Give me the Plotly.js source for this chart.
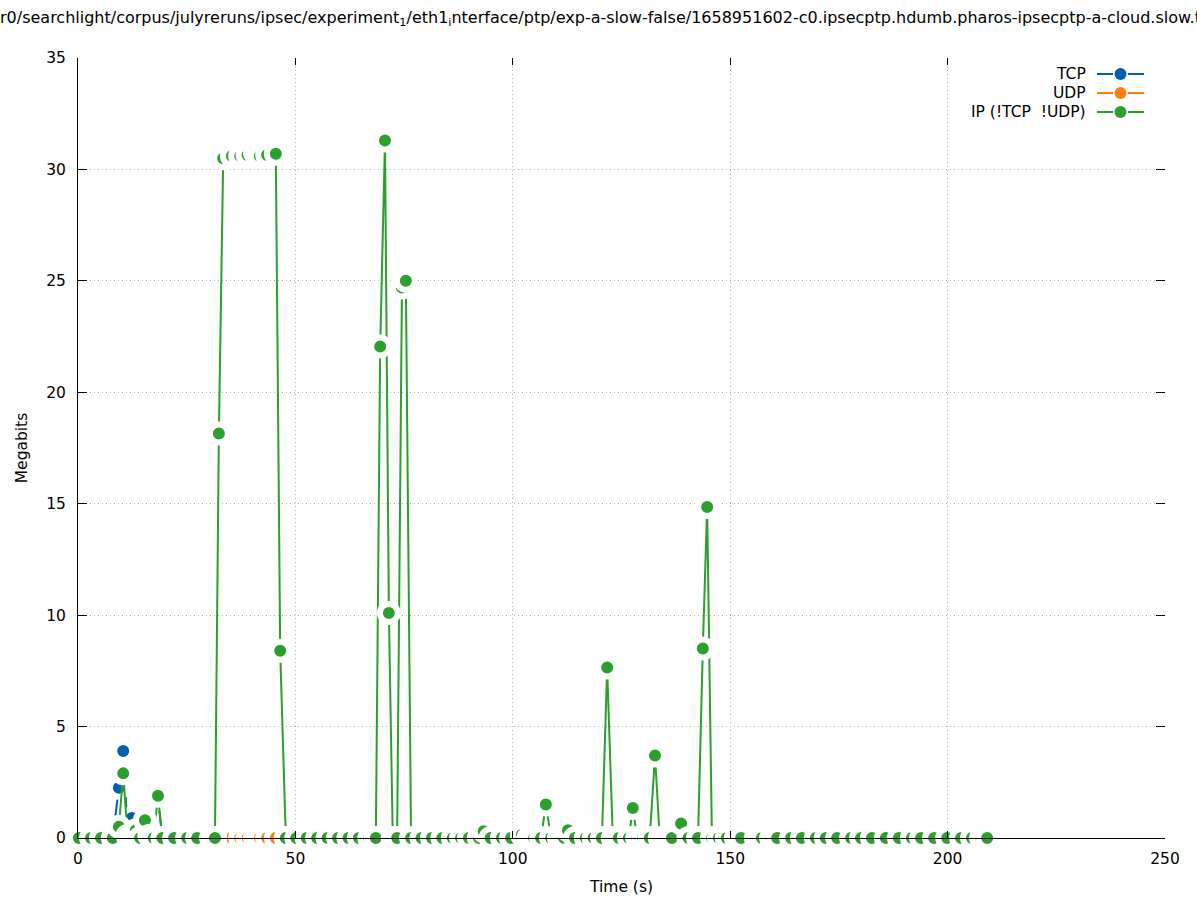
<!DOCTYPE html>
<html>
<head>
<meta charset="utf-8">
<script src="https://cdn.plot.ly/plotly-3.0.1.min.js"></script>
<style>html,body{margin:0;padding:0;background:#fff;}#chart{width:1197px;height:900px;}</style>
</head>
<body>
<div id="chart"></div>
<script>
// ---- data ----
const titleText = "r0/searchlight/corpus/julyreruns/ipsec/experiment<sub>1</sub>/eth1<sub>i</sub>nterface/ptp/exp-a-slow-false/1658951602-c0.ipsecptp.hdumb.pharos-ipsecptp-a-cloud.slow.t";
const seriesNames = ["TCP", "UDP", "IP (!TCP  !UDP)"];
const seriesColors = ["#0060ad", "#ff7f0e", "#2ca02c"];

const tcpTime = [8.0, 9.4, 10.4, 11.4, 12.4, 13.3, 14.3, 15.4, 16.4, 17.4, 18.4, 19.4];
const tcpMbits = [0, 2.25, 3.9, 0.3, 0.9, 0.1, 0, 1.6, 1.65, 1.7, 1.75, 0];

const udpTime = [33.4, 35.4, 37.3, 39.0, 40.7, 41.8, 43.5, 45.5];
const udpMbits = [0, 0, 0, 0, 0, 0, 0, 0];

const ipTime = [0.2, 3.0, 5.3, 8.0, 9.4, 10.4, 11.4, 12.4, 13.3, 14.3, 15.4, 16.4, 17.4, 18.4, 19.4,
  22.1, 25.1, 27.4, 30.6, 31.5, 32.4, 33.4, 35.4, 37.3, 39.0, 40.7, 41.8, 43.5, 45.5, 46.5, 47.8,
  50.2, 52.6, 55.0, 57.4, 59.8, 62.2, 64.6, 67.0, 68.5, 69.5, 70.6, 71.5, 72.4, 73.4, 74.5, 75.4, 76.6,
  79.0, 81.4, 83.8, 86.2, 88.1, 89.9, 92.2, 93.3, 94.9, 97.5, 99.6, 102.1, 103.6, 104.9, 106.5, 107.6, 108.8,
  110.6, 111.8, 112.7, 114.3, 116.8, 118.6, 120.5, 121.7, 123.0, 124.4, 126.7, 127.6, 128.6, 130.0,
  131.5, 132.7, 133.8, 135.2, 136.6, 138.7, 140.4, 142.6, 143.7, 144.7, 145.8, 147.4, 149.2,
  151.3, 152.5, 155.9, 157.3, 159.4, 160.8, 164.0, 166.5, 169.7, 172.0, 174.6, 177.8, 180.1,
  182.6, 185.8, 188.8, 191.8, 193.9, 196.9, 199.9, 203.1, 205.6, 207.7, 209.1];
const ipMbits = [0, 0, 0, 0, 0.5, 2.9, 0.1, 0.15, 0.35, 0, 0.8, 0.1, 0, 1.9, 0,
  0, 0, 0, 0, 0, 18.15, 30.5, 30.6, 30.6, 30.65, 30.75, 30.6, 30.65, 30.7, 8.4, 0,
  0, 0, 0, 0, 0, 0, 0, 0, 0, 22.05, 31.3, 10.1, 0, 0, 24.7, 25.0, 0,
  0, 0, 0, 0, 0, 0, 0, 0.3, 0, 0, 0, 0.15, 0, 0, 0, 1.5, 0,
  0, 0, 0.35, 0, 0, 0, 0, 7.65, 0, 0, 0, 1.35, 0, 0,
  0, 3.7, 0, 0, 0, 0.65, 0, 0, 8.5, 14.85, 0, 0, 0,
  0, 0, 0, 0, 0, 0, 0, 0, 0, 0, 0, 0, 0,
  0, 0, 0, 0, 0, 0, 0, 0, 0, 0, 0, 0];

const xTicks = [0, 50, 100, 150, 200, 250];
const yTicks = [0, 5, 10, 15, 20, 25, 30, 35];

// ---- layout constants ----
const FONT = "DejaVu Sans, sans-serif";
const FS = 15.5;
const W = 1197, H = 900, L = 78, R = 1165, T = 58, B = 838;
const px2paperX = p => (p - L) / (R - L);
const px2paperY = p => (B - p) / (B - T);

// gnuplot "linespoints pi -1": each point blanks a small area around itself
function mkTrace(x, y, i) {
  return {
    x: x, y: y, type: "scatter", mode: "lines+markers", name: seriesNames[i],
    line: {color: seriesColors[i], width: 2},
    marker: {color: seriesColors[i], size: 18, line: {color: "#ffffff", width: 6}},
    cliponaxis: false, showlegend: false, hoverinfo: "x+y"
  };
}

const traces = [
  mkTrace(tcpTime, tcpMbits, 0),
  mkTrace(udpTime, udpMbits, 1),
  mkTrace(ipTime, ipMbits, 2),
  {x: [], y: [], xaxis: "x2", yaxis: "y2", type: "scatter", mode: "markers", showlegend: false, hoverinfo: "skip"}
];

// manual gnuplot-style legend (text left of sample)
const legendRows = [74, 93, 112];
const annotations = [];
const shapes = [];
seriesNames.forEach((n, i) => {
  const py = legendRows[i];
  annotations.push({
    xref: "paper", yref: "paper", x: px2paperX(1088), y: px2paperY(py),
    xanchor: "right", yanchor: "middle", text: n, showarrow: false,
    font: {family: FONT, size: FS, color: "#000"}
  });
  shapes.push({type: "line", xref: "paper", yref: "paper", x0: px2paperX(1097), x1: px2paperX(1113),
    y0: px2paperY(py), y1: px2paperY(py), line: {color: seriesColors[i], width: 2}});
  shapes.push({type: "line", xref: "paper", yref: "paper", x0: px2paperX(1128), x1: px2paperX(1144),
    y0: px2paperY(py), y1: px2paperY(py), line: {color: seriesColors[i], width: 2}});
  shapes.push({type: "circle", xref: "paper", yref: "paper", xsizemode: "pixel", ysizemode: "pixel",
    xanchor: px2paperX(1120.5), yanchor: px2paperY(py), x0: -6, x1: 6, y0: -6, y1: 6,
    fillcolor: seriesColors[i], line: {width: 0}});
});

const axisCommon = {
  showline: false, zeroline: false, ticks: "inside", tickcolor: "#000", tickwidth: 1,
  tickfont: {family: FONT, size: FS, color: "#000"},
  showgrid: true, gridcolor: "#b4b4b4", griddash: "1px,3px", gridwidth: 1
};

const layout = {
  width: W, height: H,
  margin: {l: L, r: W - R, t: T, b: H - B, pad: 0},
  paper_bgcolor: "#fff", plot_bgcolor: "#fff",
  font: {family: FONT, size: FS, color: "#000"},
  title: {text: titleText, x: 0, xref: "container", xanchor: "left", y: 1 - 17 / H, yref: "container", yanchor: "middle",
    font: {family: FONT, size: 16, color: "#000"}},
  xaxis: Object.assign({}, axisCommon, {
    range: [0, 250], tickvals: xTicks, ticktext: xTicks.map(String), ticklen: 7,
    showline: true, linecolor: "#000", linewidth: 1, ticklabelstandoff: 6,
    title: {text: "Time (s)", font: {family: FONT, size: FS, color: "#000"}, standoff: 14}
  }),
  yaxis: Object.assign({}, axisCommon, {
    range: [0, 35], tickvals: yTicks, ticktext: yTicks.map(String), ticklen: 9,
    showline: true, linecolor: "#000", linewidth: 1, ticklabelstandoff: 8,
    title: {text: "Megabits", font: {family: FONT, size: FS, color: "#000"}, standoff: 14}
  }),
  xaxis2: {overlaying: "x", anchor: "y", side: "top", range: [0, 250], tickvals: xTicks, ticks: "inside",
    ticklen: 7, tickcolor: "#000", showticklabels: false, showgrid: false, zeroline: false, showline: false},
  yaxis2: {overlaying: "y", anchor: "x", side: "right", range: [0, 35], tickvals: yTicks, ticks: "inside",
    ticklen: 9, tickcolor: "#000", showticklabels: false, showgrid: false, zeroline: false, showline: false},
  annotations: annotations,
  shapes: shapes,
  showlegend: false
};

Plotly.newPlot("chart", traces, layout, {displayModeBar: false, staticPlot: true});
</script>
</body>
</html>
